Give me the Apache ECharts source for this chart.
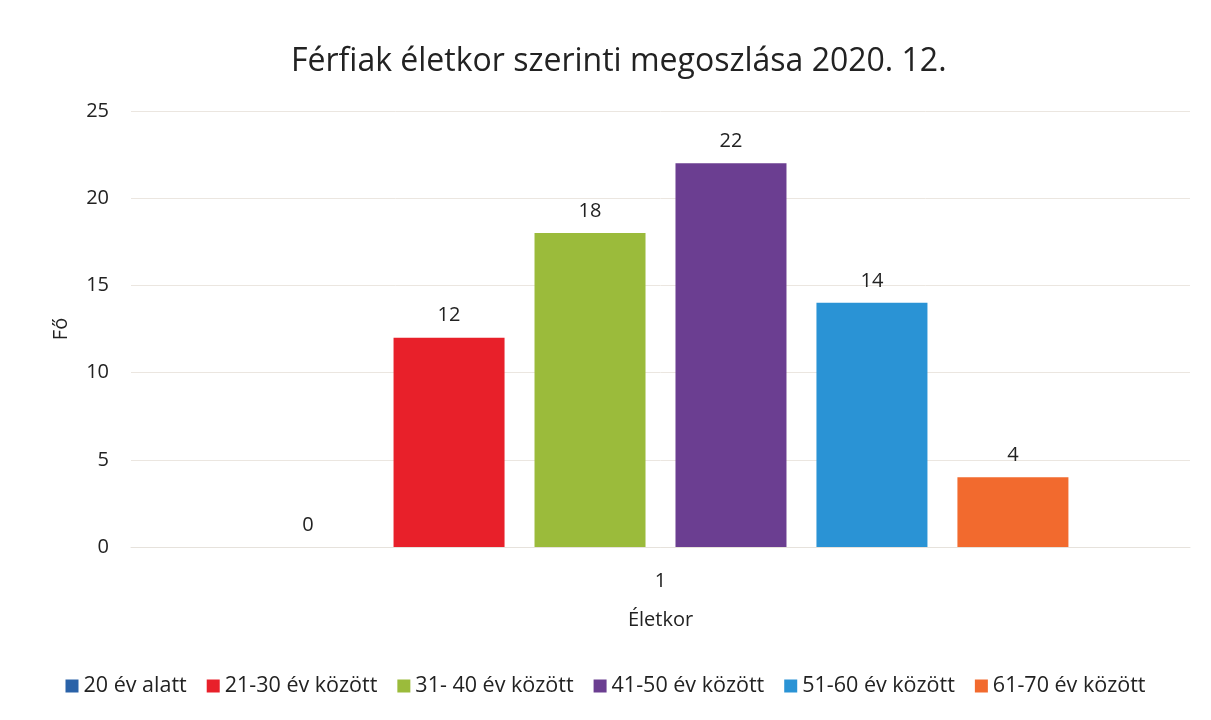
<!DOCTYPE html>
<html>
<head>
<meta charset="utf-8">
<script src="https://cdn.jsdelivr.net/npm/echarts@6/dist/echarts.min.js"></script>
<style>
html,body{margin:0;padding:0;background:#fff;}
#chart{width:1211px;height:720px;}
</style>
</head>
<body>
<div id="chart"></div>
<script>
// kategória és sorozatok
var categories=['1'];
var seriesNames=['20 év alatt','21-30 év között','31- 40 év között','41-50 év között','51-60 év között','61-70 év között'];
var seriesValues=[0,12,18,22,14,4];
var seriesColors=['#2a62a8','#e8202a','#9bbb3b','#6b3e91','#2a93d5','#f26a2e'];
var yTicks={min:0,max:25,interval:5};

var font='"Open Sans", "Noto Sans", sans-serif';

var chart=echarts.init(document.getElementById('chart'));

var series=seriesNames.map(function(name,i){
    return {
        name:name,
        type:'bar',
        data:[seriesValues[i]],
        barWidth:111,
        barGap:'27%',
        itemStyle:{color:seriesColors[i]},
        label:{
            show:true,
            position:'top',
            distance:12,
            color:'#222',
            fontSize:20,
            fontFamily:font
        }
    };
});

chart.setOption({
    animation:false,
    backgroundColor:'#fff',
    title:{
        text:'Férfiak életkor szerinti megoszlása 2020. 12.',
        left:286,
        top:41,
        textStyle:{
            fontFamily:font,
            fontSize:32,
            fontWeight:'normal',
            color:'#222'
        }
    },
    grid:{
        left:131,
        right:21,
        top:111,
        bottom:173
    },
    legend:{
        bottom:18,
        left:'center',
        itemWidth:13,
        itemHeight:13,
        itemGap:20,
        icon:'rect',
        textStyle:{
            fontFamily:font,
            fontSize:21.5,
            color:'#222'
        },
        data:seriesNames
    },
    xAxis:{
        type:'category',
        data:categories,
        name:'Életkor',
        nameLocation:'middle',
        nameGap:63,
        nameTextStyle:{fontFamily:font,fontSize:20,color:'#222'},
        axisLine:{show:true,lineStyle:{color:'#e6e2dc'}},
        axisTick:{show:false},
        axisLabel:{
            margin:24,
            fontFamily:font,
            fontSize:20,
            color:'#222'
        }
    },
    yAxis:{
        type:'value',
        min:yTicks.min,
        max:yTicks.max,
        interval:yTicks.interval,
        name:'Fő',
        nameLocation:'middle',
        nameGap:60,
        nameRotate:90,
        nameTextStyle:{fontFamily:font,fontSize:20,color:'#222'},
        axisLine:{show:false},
        axisTick:{show:false},
        axisLabel:{
            margin:22,
            fontFamily:font,
            fontSize:20,
            color:'#222'
        },
        splitLine:{lineStyle:{color:'#ebe6e0',width:1}}
    },
    series:series
});
</script>
</body>
</html>
